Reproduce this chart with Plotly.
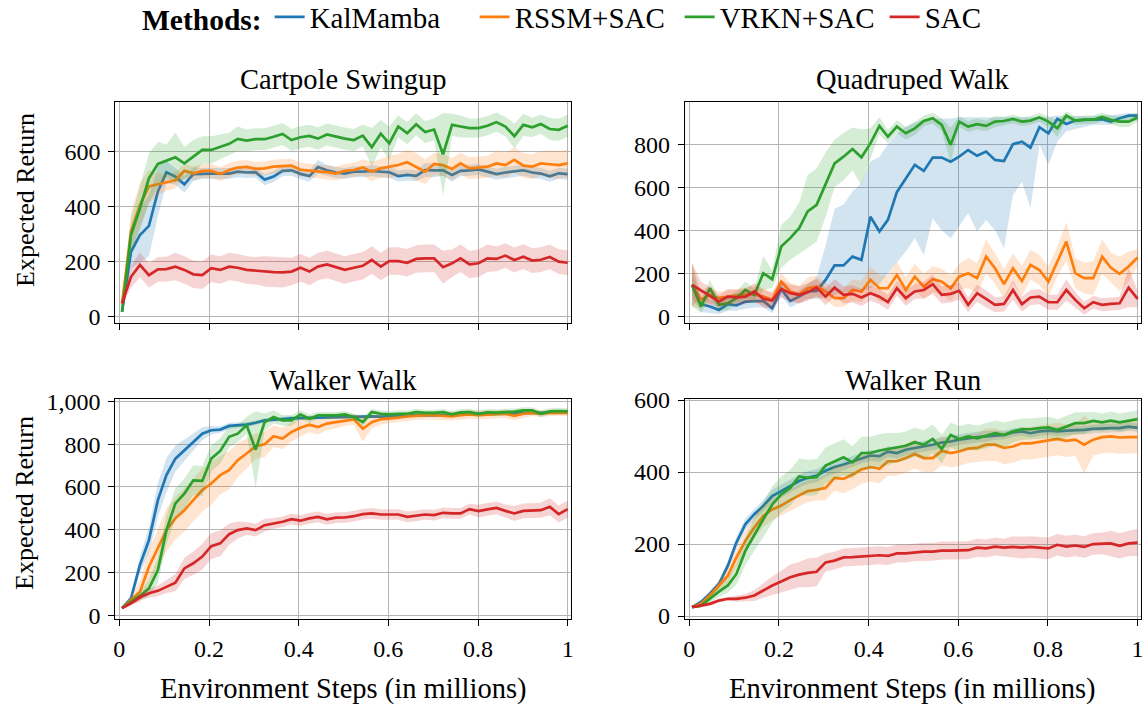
import plotly.graph_objects as go

# ---------------- data ----------------
steps = [0.006, 0.026, 0.046, 0.066, 0.086, 0.105, 0.125, 0.145, 0.165, 0.185,
         0.205, 0.225, 0.245, 0.264, 0.284, 0.304, 0.324, 0.344, 0.364, 0.384,
         0.404, 0.424, 0.443, 0.463, 0.483, 0.503, 0.523, 0.543, 0.563, 0.583,
         0.602, 0.622, 0.642, 0.662, 0.682, 0.702, 0.722, 0.742, 0.761, 0.781,
         0.801, 0.821, 0.841, 0.861, 0.881, 0.901, 0.921, 0.940, 0.960, 0.980, 1.000]

methods = ["KalMamba", "RSSM+SAC", "VRKN+SAC", "SAC"]
tasks = ["Cartpole Swingup", "Quadruped Walk", "Walker Walk", "Walker Run"]

# Cartpole Swingup
cp_kal = [18,236,297,330,455,525,509,481,518,520,520,520,520,527,524,525,498,509,530,532,519,511,544,532,524,520,527,527,530,527,525,511,515,512,533,532,532,515,530,532,535,527,518,524,527,532,524,520,510,521,518]
cp_kal_sd = [10,60,100,110,90,40,30,30,25,20,20,20,20,20,20,20,20,20,20,20,20,20,25,20,20,20,20,20,20,20,20,20,20,20,25,25,20,25,20,20,20,20,20,20,20,20,20,20,20,20,20]
cp_rssm = [48,309,406,473,481,488,496,530,521,530,530,518,533,542,544,537,539,545,548,549,534,532,528,525,520,530,533,542,527,539,545,551,561,545,527,555,551,537,557,539,542,545,557,551,570,549,545,557,554,551,557]
cp_rssm_sd = [10,70,80,60,40,30,30,25,25,25,25,25,25,25,25,25,25,25,25,25,25,25,25,25,25,25,25,30,35,35,40,40,45,50,45,40,40,40,40,40,40,40,45,45,45,45,45,45,50,50,50]
cp_vrkn = [18,297,394,503,555,566,579,557,582,606,606,618,628,646,640,645,645,654,664,642,652,657,647,662,654,647,642,658,616,665,630,691,667,699,671,680,590,697,691,685,685,694,707,691,656,697,688,700,682,679,694]
cp_vrkn_sd = [10,60,80,90,80,60,90,60,60,50,50,45,40,45,40,40,40,40,40,40,40,40,40,40,40,40,40,40,70,50,60,40,40,40,40,40,150,40,40,35,35,35,35,35,45,40,35,35,40,40,40]
cp_sac = [48,145,188,151,172,173,182,170,154,151,176,170,182,178,170,167,165,162,161,164,178,164,182,190,180,170,178,185,206,182,202,202,196,210,212,212,180,194,212,190,194,212,210,222,206,218,204,207,217,200,196]
cp_sac_sd = [10,40,45,45,45,45,50,50,50,50,50,50,50,50,50,50,55,55,55,50,50,50,50,50,50,50,50,50,50,50,50,50,50,50,50,50,60,50,50,50,50,50,45,45,45,45,45,45,45,45,45]

# Quadruped Walk
qw_kal = [146,56,45,29,56,50,68,68,71,37,127,71,91,115,118,169,236,236,277,262,463,394,448,577,642,704,676,738,738,719,742,773,746,766,727,722,800,812,784,879,851,918,894,910,913,914,916,905,921,933,933]
qw_kal_lo = [90,20,15,10,25,25,35,40,40,15,95,40,60,80,80,90,100,110,120,120,130,150,200,250,301,363,285,456,400,363,420,479,394,448,400,316,564,626,502,797,704,812,860,870,880,890,890,890,900,910,910]
qw_kal_hi = [200,90,80,60,90,80,100,100,100,70,160,100,120,150,180,330,500,520,580,620,720,740,800,850,880,900,915,920,920,920,925,925,925,925,925,925,925,925,925,925,925,935,930,930,930,930,935,935,940,945,945]
qw_rssm = [146,76,99,84,91,95,102,102,91,76,161,115,102,130,138,115,84,84,122,115,169,130,130,192,122,184,138,172,161,130,184,200,177,277,223,149,223,164,239,215,161,254,347,200,177,177,277,226,197,231,273]
qw_rssm_sd = [100,40,40,30,30,30,30,40,40,30,40,40,40,50,50,40,40,40,50,50,60,60,60,60,60,60,60,60,60,60,60,70,70,80,70,70,70,70,70,70,70,70,90,70,70,80,80,70,80,70,40]
qw_vrkn = [146,45,130,53,60,84,122,99,200,172,324,363,409,487,518,611,711,742,778,739,804,885,835,882,851,874,908,921,890,797,905,882,893,885,905,908,918,905,910,925,905,874,933,910,914,914,927,914,905,905,924]
qw_vrkn_sd = [100,30,40,30,30,30,40,30,80,40,100,100,120,170,170,150,110,110,100,130,70,40,30,30,30,30,25,25,30,80,25,25,25,25,25,20,20,20,20,20,25,40,20,20,20,20,20,20,25,25,20]
qw_sac = [146,122,95,68,91,88,91,115,81,73,127,107,99,112,133,91,133,99,104,87,107,91,65,130,84,115,122,149,99,104,118,53,107,81,53,57,122,56,87,91,65,65,122,76,37,65,53,57,60,133,81]
qw_sac_sd = [100,40,40,30,35,35,35,40,40,40,40,40,40,40,40,40,40,40,40,40,35,35,35,35,35,35,40,45,40,40,40,35,40,40,35,35,45,35,35,35,35,35,50,35,30,30,30,30,30,90,40]

# Walker Walk
ww_kal = [33,79,235,351,538,655,732,771,810,849,865,868,885,888,891,900,911,914,918,921,922,923,926,924,927,926,929,928,930,929,931,933,932,934,935,934,937,936,939,940,939,942,943,942,945,946,945,947,948,948,949]
ww_kal_sd = [5,15,40,60,80,80,60,50,40,30,20,15,15,12,12,10,10,10,10,10,10,8,8,8,8,8,8,8,8,8,8,8,8,8,8,8,8,8,8,8,8,8,8,8,8,8,8,8,8,8,8]
ww_rssm = [33,72,110,227,313,398,453,491,538,585,616,655,678,725,756,790,799,837,826,857,877,891,880,896,903,911,916,872,903,916,919,924,930,933,935,935,933,930,936,939,936,939,939,942,932,942,946,942,946,947,946]
ww_rssm_sd = [5,20,50,80,90,100,100,100,100,100,100,90,90,80,70,60,60,50,50,45,40,35,35,30,30,25,25,60,30,25,20,20,20,20,20,20,20,20,20,20,20,20,20,20,20,20,15,15,15,15,15]
ww_vrkn = [33,64,90,126,211,398,523,569,631,628,732,768,834,849,888,774,903,927,911,911,938,919,935,935,935,939,927,903,950,942,939,942,942,950,946,946,950,939,949,950,942,949,947,950,952,958,958,942,953,955,953]
ww_vrkn_sd = [5,15,20,40,60,70,70,70,70,70,60,60,50,40,40,180,40,30,25,25,20,20,15,15,15,15,15,20,15,15,15,15,15,15,15,15,15,15,15,15,15,15,15,15,15,15,15,15,15,15,15]
ww_sac = [33,56,84,103,114,134,152,219,243,274,323,336,379,398,406,398,421,429,437,449,442,453,460,448,456,457,463,473,476,471,471,471,460,465,471,468,479,476,476,496,487,495,502,488,476,488,488,491,507,473,496]
ww_sac_sd = [5,10,15,20,25,30,40,50,55,60,60,60,50,40,30,30,30,25,25,25,25,25,25,25,25,25,25,25,25,25,25,25,25,25,25,25,25,25,25,25,30,30,30,30,35,35,35,35,40,40,40]

# Walker Run
wr_kal = [25,39,62,89,140,204,255,283,306,333,347,361,375,384,390,404,414,421,430,439,446,444,457,453,462,467,471,476,482,485,490,494,497,499,502,503,510,513,508,513,515,513,515,515,517,520,522,522,522,526,523]
wr_kal_sd = [3,5,8,10,12,15,15,15,15,18,18,18,18,18,18,18,18,15,15,15,15,15,15,15,15,15,15,15,15,15,15,15,15,15,12,12,12,12,12,12,12,12,12,12,12,12,12,12,12,12,12]
wr_rssm = [25,34,57,85,112,163,209,246,278,296,307,322,335,347,351,356,384,381,393,407,414,409,430,430,439,450,439,439,459,453,457,465,467,476,476,467,471,480,480,485,488,492,487,490,476,490,497,499,496,497,497]
wr_rssm_sd = [3,5,10,15,20,25,30,30,30,30,30,30,30,30,30,35,35,40,40,40,40,40,40,40,40,40,40,40,40,40,40,40,40,45,45,45,45,45,45,45,45,45,45,45,80,45,45,45,45,45,45]
wr_vrkn = [25,29,48,68,85,117,181,227,269,310,338,356,388,384,386,418,430,441,427,453,453,460,464,468,473,483,476,492,464,503,492,499,494,501,508,503,513,519,519,522,524,517,526,536,536,542,538,543,538,543,547]
wr_vrkn_sd = [3,5,10,15,20,30,40,45,50,50,50,50,50,50,50,50,50,50,45,45,45,45,45,40,40,40,40,40,40,35,35,35,35,35,35,35,30,30,30,30,30,30,30,30,30,25,25,25,25,25,25]
wr_sac = [25,29,34,43,48,48,51,57,71,85,96,108,115,120,123,149,154,163,164,165,167,169,167,174,174,177,179,179,182,182,183,183,190,188,193,190,192,190,192,190,188,198,193,196,192,200,202,202,195,202,204]
wr_sac_sd = [3,5,5,5,5,8,10,15,20,25,30,35,35,40,40,25,25,25,25,25,25,25,25,25,25,25,25,25,25,25,25,25,25,25,25,25,30,30,30,30,30,30,30,30,30,30,30,35,35,35,38]

y_tickvals = {
    0: [0, 200, 400, 600],
    1: [0, 200, 400, 600, 800],
    2: [0, 200, 400, 600, 800, 1000],
    3: [0, 200, 400, 600],
}
y_ticktext = {
    0: ["0", "200", "400", "600"],
    1: ["0", "200", "400", "600", "800"],
    2: ["0", "200", "400", "600", "800", "1,000"],
    3: ["0", "200", "400", "600"],
}
x_tickvals = [0, 0.2, 0.4, 0.6, 0.8, 1.0]
x_ticktext = ["0", "0.2", "0.4", "0.6", "0.8", "1"]

# ---------------- styling ----------------
colors = ["#1f77b4", "#ff7f0e", "#2ca02c", "#d62728"]
fills = ["rgba(31,119,180,0.2)", "rgba(255,127,14,0.2)",
         "rgba(44,160,44,0.2)", "rgba(214,39,40,0.2)"]
FONT = "Liberation Serif"

def band(mean, sd):
    return [m + s for m, s in zip(mean, sd)], [m - s for m, s in zip(mean, sd)]

panels = [
    [(cp_kal, *band(cp_kal, cp_kal_sd)), (cp_rssm, *band(cp_rssm, cp_rssm_sd)),
     (cp_vrkn, *band(cp_vrkn, cp_vrkn_sd)), (cp_sac, *band(cp_sac, cp_sac_sd))],
    [(qw_kal, qw_kal_hi, qw_kal_lo), (qw_rssm, *band(qw_rssm, qw_rssm_sd)),
     (qw_vrkn, *band(qw_vrkn, qw_vrkn_sd)), (qw_sac, *band(qw_sac, qw_sac_sd))],
    [(ww_kal, *band(ww_kal, ww_kal_sd)), (ww_rssm, *band(ww_rssm, ww_rssm_sd)),
     (ww_vrkn, *band(ww_vrkn, ww_vrkn_sd)), (ww_sac, *band(ww_sac, ww_sac_sd))],
    [(wr_kal, *band(wr_kal, wr_kal_sd)), (wr_rssm, *band(wr_rssm, wr_rssm_sd)),
     (wr_vrkn, *band(wr_vrkn, wr_vrkn_sd)), (wr_sac, *band(wr_sac, wr_sac_sd))],
]

W, H = 1143, 706
TOP = 40  # top margin (legend lives there)

def px_x(px):
    return px / W

def px_y(py):
    return (H - py) / (H - TOP)

x_domains = [[px_x(115.3), px_x(571.3)], [px_x(684.7), px_x(1141)]]
y_domains = [[px_y(323.3), px_y(102.3)], [px_y(619.3), px_y(399)]]
y_ranges = [[-24, 779], [-33, 995], [-19, 1011], [-9, 603]]
x_ranges = [[-0.009, 1.008], [-0.0103, 1.0076]]

fig = go.Figure()

for p, series in enumerate(panels):
    ax = "" if p == 0 else str(p + 1)
    for k, (mean, hi, lo) in enumerate(series):
        assert len(mean) == len(steps) == len(hi) == len(lo), (p, k)
        fig.add_trace(go.Scatter(
            x=steps + steps[::-1], y=hi + lo[::-1],
            fill="toself", fillcolor=fills[k], line=dict(width=0),
            hoverinfo="skip", showlegend=False,
            xaxis="x" + ax, yaxis="y" + ax))
        fig.add_trace(go.Scatter(
            x=steps, y=mean, mode="lines",
            line=dict(color=colors[k], width=2.7),
            name=methods[k], showlegend=(p == 0),
            xaxis="x" + ax, yaxis="y" + ax))

layout = dict(
    width=W, height=H,
    margin=dict(l=0, r=0, t=TOP, b=0, autoexpand=False),
    paper_bgcolor="white", plot_bgcolor="white",
    font=dict(family=FONT, size=22, color="black"),
    legend=dict(orientation="h", x=px_x(140), xanchor="left", y=px_y(17), yanchor="middle",
                font=dict(family=FONT, size=29),
                title=dict(text="<b>Methods:</b>", font=dict(family=FONT, size=29.5), side="left"),
                itemwidth=30, entrywidth=160, entrywidthmode="pixels",
                tracegroupgap=0, bgcolor="rgba(0,0,0,0)"),
    annotations=[],
)

for p in range(4):
    ax = "" if p == 0 else str(p + 1)
    col, row = p % 2, p // 2
    layout["xaxis" + ax] = dict(
        domain=x_domains[col], range=x_ranges[col], anchor="y" + ax,
        tickvals=x_tickvals, ticktext=x_ticktext, showticklabels=(row == 1),
        showline=True, linecolor="black", linewidth=1, mirror=True,
        ticks="outside", ticklen=6, tickcolor="black", automargin=False,
        ticklabelstandoff=2, ticklabeloverflow="allow",
        showgrid=True, gridcolor="#b5b5b5", gridwidth=1, zeroline=False,
        tickfont=dict(family=FONT, size=24))
    layout["yaxis" + ax] = dict(
        domain=y_domains[row], range=y_ranges[p], anchor="x" + ax,
        tickvals=y_tickvals[p], ticktext=y_ticktext[p],
        showline=True, linecolor="black", linewidth=1, mirror=True,
        ticks="outside", ticklen=6, tickcolor="black", automargin=False,
        ticklabelstandoff=3, ticklabeloverflow="allow",
        showgrid=True, gridcolor="#b5b5b5", gridwidth=1, zeroline=False,
        tickfont=dict(family=FONT, size=24))
    cx = (x_domains[col][0] + x_domains[col][1]) / 2
    ty = px_y([80, 381][row])
    layout["annotations"].append(dict(
        text=tasks[p], x=cx, y=ty, xref="paper", yref="paper",
        xanchor="center", yanchor="middle", showarrow=False,
        font=dict(family=FONT, size=28.5)))

for row, yc in enumerate([200, 503]):
    layout["annotations"].append(dict(
        text="Expected Return", x=px_x(25), y=px_y(yc), xref="paper", yref="paper",
        xanchor="center", yanchor="middle", textangle=-90, showarrow=False,
        font=dict(family=FONT, size=26)))
for col in range(2):
    cx = (x_domains[col][0] + x_domains[col][1]) / 2
    layout["annotations"].append(dict(
        text="Environment Steps (in millions)", x=cx, y=px_y(689),
        xref="paper", yref="paper", xanchor="center", yanchor="middle",
        showarrow=False, font=dict(family=FONT, size=28.5)))

fig.update_layout(**layout)
fig.write_html("out.html", config={"displayModeBar": False},
               post_script="document.body.style.margin='0px';"
                           "document.body.style.overflow='hidden';")
